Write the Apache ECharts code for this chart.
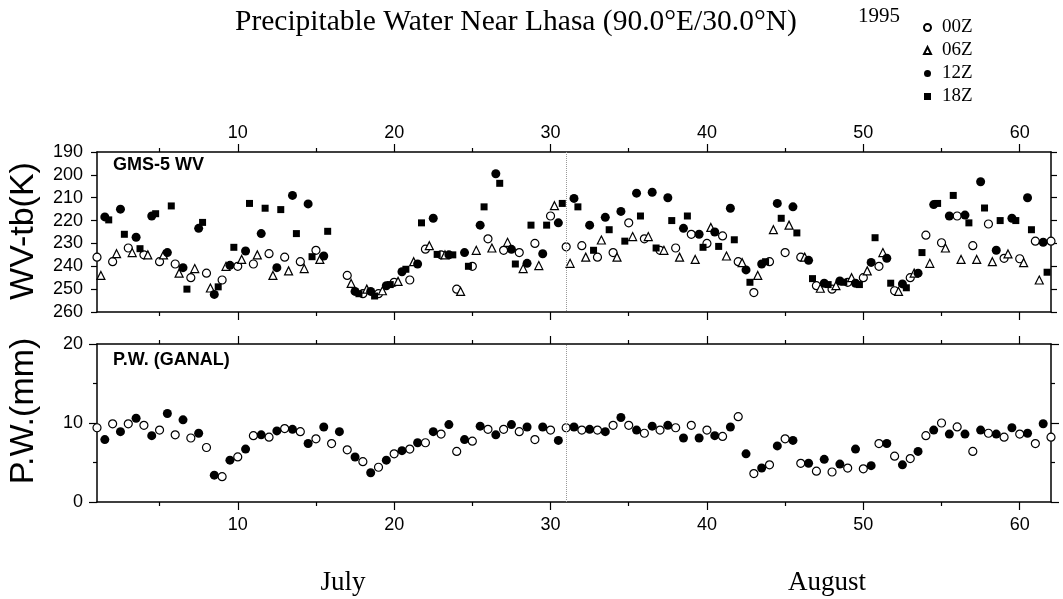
<!DOCTYPE html>
<html>
<head>
<meta charset="utf-8">
<title>Precipitable Water Near Lhasa</title>
<script src="https://cdn.jsdelivr.net/npm/echarts@6/dist/echarts.min.js"></script>
<style>
  html, body { margin: 0; padding: 0; background: #fff; }
  #chart { width: 1063px; height: 599px; }
</style>
</head>
<body>
<div id="chart"></div>
<script>
// day index 1..62 (1 July .. 1 Sept)
// GMS-5 water vapour brightness temperature (K), day 16 missing
var wv00 = [236, 238, 232, 235, 238, 239, 245, 243, 246, 240,
  239, 234.5, 236, 238, 233, null, 244, 252, 252, 247,
  246, 232.5, 235, 250, 240, 228, 233, 234, 230, 218,
  231.5, 231, 236, 234, 221, 228, 233, 232, 226, 230,
  226.7, 238, 251.5, 238, 234, 236, 248.5, 250, 247, 245,
  240, 250.7, 245, 226.4, 229.7, 218, 231, 221.5, 236.5, 236.7,
  229, 229]
var wv06 = [244, 234.5, 234, 235, 235, 243, 241, 249.5, 240, 237,
  235, 244, 242, 241, 237, null, 247.5, 250, 250.7, 246.6,
  238, 231, 235, 251, 233, 232, 229.5, 241, 239.7, 213.5,
  238.7, 236, 228.5, 236, 227, 227, 233, 236, 237, 223,
  235.5, 238.4, 244, 224, 222, 236, 249.6, 248.5, 245, 242,
  234, 251, 243, 238.7, 232, 237, 237, 238, 234.6, 238.4,
  246]
var wv12 = [218.4, 215, 227.3, 218, 234, 240.6, 223.4, 252.3, 239.6, 233.3,
  225.7, 240.6, 209, 212.7, 235.5, null, 251, 251, 248.5, 242.4,
  239, 219, 235, 234, 222, 199.5, 232.6, 238.7, 234.5, 221,
  210.3, 222, 218.6, 216, 208, 207.6, 210, 223.4, 226, 225,
  214.6, 241.6, 239, 212.5, 214, 237.4, 247.4, 246.4, 247.4, 238.3,
  236.5, 247.7, 243, 213, 218, 217.6, 203, 233, 219, 210,
  229.5]
var wv18 = [219.7, 226, 232.3, 217, 213.6, 250, 220.8, 249, 231.7, 212.5,
  214.6, 215.2, 225.7, 235.8, 224.7, null, 252, 253, 248, 241.3,
  221, 234.8, 235, 240, 214, 203.7, 239, 222, 222, 212.5,
  214, 233, 224, 229, 218, 232, 220, 218, 231.7, 231.3,
  228.4, 247, 238, 219, 225.4, 245.4, 248, 247, 248, 227.5,
  247.4, 249.4, 234, 212.5, 209, 221, 214.5, 220, 220, 224,
  242.6]
// GANAL precipitable water (mm)
var pw00 = [9.4, 9.9, 9.9, 9.7, 9.1, 8.5, 8.1, 6.9, 3.2, 5.7,
  8.4, 8.2, 9.3, 8.9, 8.0, 7.4, 6.6, 5.1, 4.4, 6.1,
  6.7, 7.5, 8.6, 6.4, 7.7, 9.2, 9.2, 8.9, 7.9, 9.1,
  9.4, 9.1, 9.1, 9.7, 9.7, 8.7, 9.1, 9.4, 9.7, 9.1,
  8.3, 10.8, 3.6, 4.7, 8.0, 4.9, 3.9, 3.8, 4.3, 4.2,
  7.4, 5.8, 5.5, 8.4, 10.0, 9.5, 6.4, 8.7, 8.2, 8.6,
  7.4, 8.2]
var pw12 = [7.9, 8.9, 10.6, 8.4, 11.2, 10.4, 8.7, 3.4, 5.3, 6.7,
  8.5, 9.0, 9.2, 7.4, 9.5, 8.9, 5.7, 3.7, 5.3, 6.5,
  7.5, 8.9, 9.8, 7.9, 9.6, 8.5, 9.8, 9.5, 9.5, 7.8,
  9.5, 9.2, 8.9, 10.7, 9.1, 9.6, 9.7, 8.1, 8.1, 8.4,
  9.5, 6.1, 4.3, 7.1, 7.8, 4.9, 5.4, 4.8, 6.7, 4.6,
  7.4, 4.7, 6.4, 9.1, 8.6, 8.6, 9.1, 8.6, 9.4, 8.7,
  9.9]

var majorTicks = [10, 20, 30, 40, 50, 60]
var minorTicks = [5, 15, 25, 35, 45, 55]

var sans = 'Liberation Sans, Arial, sans-serif'
var serif = 'Liberation Serif, Times New Roman, serif'

// hour -> fraction of a day on the x axis
function toPoints(vals, hour) {
  var out = []
  vals.forEach(function (v, i) {
    if (v !== null) out.push([i + 1 + hour / 24, v])
  })
  return out
}

function xAxis(grid, pos, major, label) {
  return {
    type: 'value', gridIndex: grid, position: pos, min: 1, max: 62,
    axisLine: { show: major, onZero: false, lineStyle: { color: '#000', width: 1.5 } },
    axisTick: {
      show: true, length: major ? 8 : 4,
      customValues: major ? majorTicks : minorTicks,
      lineStyle: { color: '#000', width: 1.2 }
    },
    axisLabel: {
      show: label, customValues: majorTicks, margin: pos === 'top' ? 10 : 14,
      color: '#000', fontSize: 18, fontFamily: sans
    },
    splitLine: { show: false }
  }
}

var open = { color: '#fff', borderColor: '#000', borderWidth: 1.2, opacity: 1 }
var solid = { color: '#000', opacity: 1 }

function scatter(name, data, symbol, size, style, x, y) {
  return {
    name: name, type: 'scatter', data: data, symbol: symbol, symbolSize: size,
    itemStyle: style, xAxisIndex: x, yAxisIndex: y, silent: true
  }
}

var vline = {
  silent: true, symbol: ['none', 'none'], label: { show: false },
  lineStyle: { type: 'dotted', color: '#999', width: 1 },
  data: [{ xAxis: 31 }]
}

var s00 = scatter('00Z', toPoints(wv00, 0), 'circle', 8, open, 0, 0)
s00.markLine = vline
var p00 = scatter('00Z', toPoints(pw00, 0), 'circle', 8, open, 4, 2)
p00.markLine = vline

var chart = echarts.init(document.getElementById('chart'))
chart.setOption({
  animation: false,
  backgroundColor: '#fff',
  title: {
    text: 'Precipitable Water Near Lhasa (90.0°E/30.0°N)',
    left: 230, top: 2,
    textStyle: { fontFamily: serif, fontSize: 29.5, fontWeight: 'normal', color: '#000' }
  },
  legend: {
    orient: 'vertical', left: 918, top: 13, itemWidth: 7, itemHeight: 7, itemGap: 4,
    selectedMode: false,
    data: ['00Z', '06Z', '12Z', '18Z'],
    textStyle: { fontFamily: serif, fontSize: 19, color: '#000', padding: [0, 0, 0, 6] }
  },
  grid: [
    { left: 97, right: 12, top: 152, height: 160 },
    { left: 97, right: 12, top: 344, height: 158 }
  ],
  xAxis: [
    xAxis(0, 'top', true, true),
    xAxis(0, 'top', false, false),
    xAxis(0, 'bottom', true, false),
    xAxis(0, 'bottom', false, false),
    xAxis(1, 'bottom', true, true),
    xAxis(1, 'bottom', false, false),
    xAxis(1, 'top', true, false),
    xAxis(1, 'top', false, false)
  ],
  yAxis: [
    {
      type: 'value', gridIndex: 0, position: 'left', inverse: true,
      min: 190, max: 260, interval: 10,
      axisLine: { show: true, onZero: false, lineStyle: { color: '#000', width: 1.5 } },
      axisTick: { show: true, length: 6, lineStyle: { color: '#000', width: 1.2 } },
      axisLabel: { margin: 14, color: '#000', fontSize: 18, fontFamily: sans },
      splitLine: { show: false }
    },
    {
      type: 'value', gridIndex: 0, position: 'right', inverse: true,
      min: 190, max: 260, interval: 10,
      axisLine: { show: true, onZero: false, lineStyle: { color: '#000', width: 1.5 } },
      axisTick: { show: true, length: 6, lineStyle: { color: '#000', width: 1.2 } },
      axisLabel: { show: false },
      splitLine: { show: false }
    },
    {
      type: 'value', gridIndex: 1, position: 'left', min: 0, max: 20, interval: 10,
      axisLine: { show: true, onZero: false, lineStyle: { color: '#000', width: 1.5 } },
      axisTick: { show: true, length: 8, lineStyle: { color: '#000', width: 1.2 } },
      minorTick: { show: true, splitNumber: 2, length: 4, lineStyle: { color: '#000', width: 1.2 } },
      axisLabel: { margin: 14, color: '#000', fontSize: 18, fontFamily: sans },
      splitLine: { show: false }
    },
    {
      type: 'value', gridIndex: 1, position: 'right', min: 0, max: 20, interval: 10,
      axisLine: { show: true, onZero: false, lineStyle: { color: '#000', width: 1.5 } },
      axisTick: { show: true, length: 8, lineStyle: { color: '#000', width: 1.2 } },
      minorTick: { show: true, splitNumber: 2, length: 4, lineStyle: { color: '#000', width: 1.2 } },
      axisLabel: { show: false },
      splitLine: { show: false }
    }
  ],
  series: [
    s00,
    scatter('06Z', toPoints(wv06, 6), 'triangle', 8, open, 0, 0),
    scatter('12Z', toPoints(wv12, 12), 'circle', 9, solid, 0, 0),
    scatter('18Z', toPoints(wv18, 18), 'rect', 7, solid, 0, 0),
    p00,
    scatter('12Z', toPoints(pw12, 12), 'circle', 9, solid, 4, 2)
  ],
  graphic: [
    { type: 'text', left: 858, top: 6,
      style: { text: '1995', font: '21px ' + serif, fill: '#000' } },
    { type: 'text', x: 24, y: 231, rotation: Math.PI / 2,
      style: { text: 'WV-tb(K)', font: '34px ' + sans, fill: '#000', align: 'center', verticalAlign: 'middle' } },
    { type: 'text', x: 24, y: 411, rotation: Math.PI / 2,
      style: { text: 'P.W.(mm)', font: '34px ' + sans, fill: '#000', align: 'center', verticalAlign: 'middle' } },
    { type: 'text', x: 113, y: 156,
      style: { text: 'GMS-5 WV', font: 'bold 18px ' + sans, fill: '#000' } },
    { type: 'text', x: 113, y: 351,
      style: { text: 'P.W. (GANAL)', font: 'bold 18px ' + sans, fill: '#000' } },
    { type: 'text', x: 343, y: 583,
      style: { text: 'July', font: '27px ' + serif, fill: '#000', align: 'center', verticalAlign: 'middle' } },
    { type: 'text', x: 827, y: 583,
      style: { text: 'August', font: '27px ' + serif, fill: '#000', align: 'center', verticalAlign: 'middle' } }
  ]
})
</script>
</body>
</html>
